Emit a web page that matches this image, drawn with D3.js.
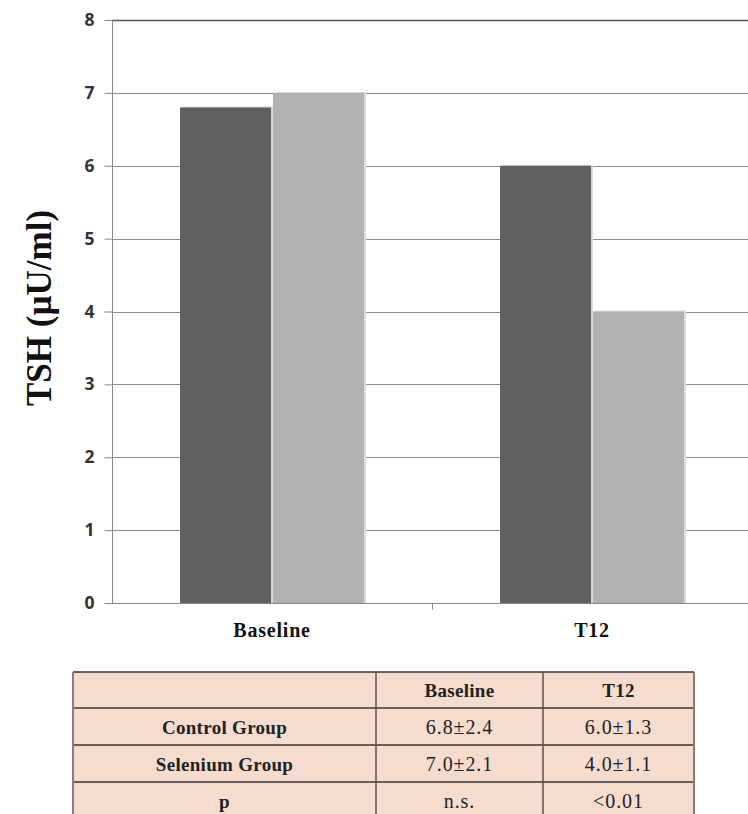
<!DOCTYPE html>
<html>
<head>
<meta charset="utf-8">
<script src="https://cdn.jsdelivr.net/npm/d3@7"></script>
<style>
  html, body { margin: 0; padding: 0; background: #fff; }
  svg { display: block; }
</style>
</head>
<body>
<svg id="chart" width="748" height="814"></svg>
<script>
// ---- data ----
const categories = ["Baseline", "T12"];
const seriesNames = ["Control Group", "Selenium Group"];
const controlValues = [6.8, 6.0];
const seleniumValues = [7.0, 4.0];
const yTicks = [0, 1, 2, 3, 4, 5, 6, 7, 8];
const yTitle = "TSH (\u00b5U/ml)";
const tableHeader = ["", "Baseline", "T12"];
const tableRows = [
  ["Control Group", "6.8\u00b12.4", "6.0\u00b11.3"],
  ["Selenium Group", "7.0\u00b12.1", "4.0\u00b11.1"],
  ["p", "n.s.", "<0.01"]
];
const colors = ["#606060", "#b2b2b2"];

(function () {
// ---- layout ----
const svg = d3.select("#chart");
const pLeft = 112, pRight = 752, pTop = 20, pBottom = 603;
const serif = "'Liberation Serif', 'Times New Roman', serif";

const y = d3.scaleLinear().domain([0, 8]).range([pBottom, pTop]);
const x0 = d3.scaleBand().domain(categories).range([pLeft, pRight]).padding(0);
const bw = x0.bandwidth();
const x1 = d3.scaleBand().domain(seriesNames).range([bw / 2 - 92, bw / 2 + 92]).paddingInner(0.02);

const data = categories.map((c, i) => ({
  cat: c,
  vals: [
    { s: seriesNames[0], v: controlValues[i], c: colors[0] },
    { s: seriesNames[1], v: seleniumValues[i], c: colors[1] }
  ]
}));

// gridlines
svg.append("g")
  .selectAll("line")
  .data(yTicks.filter(t => t > 0))
  .join("line")
  .attr("x1", pLeft).attr("x2", 748)
  .attr("y1", d => Math.round(y(d)) + 0.5).attr("y2", d => Math.round(y(d)) + 0.5)
  .attr("stroke", d => d === 8 ? "#555" : "#8c8c8c")
  .attr("stroke-width", d => d === 8 ? 1.5 : 1);

// y axis
const yAxis = d3.axisLeft(y).tickValues(yTicks).tickSize(8).tickPadding(10).tickFormat(d3.format("d"));
const gy = svg.append("g").attr("transform", `translate(${pLeft + 0.5},0)`).call(yAxis);
gy.attr("font-size", null).attr("font-family", null);
gy.select(".domain").attr("stroke", "#888").attr("d", `M0,${pTop}V${pBottom}`);
gy.selectAll(".tick line").attr("stroke", "#888");
gy.selectAll(".tick text")
  .style("font-family", "'Open Sans', sans-serif")
  .style("font-weight", 700)
  .style("font-size", "17.5px")
  .attr("fill", "#333");

// bars
const groups = svg.append("g").selectAll("g")
  .data(data)
  .join("g")
  .attr("transform", d => `translate(${x0(d.cat)},0)`);

// shadows
groups.selectAll("rect.shadow")
  .data(d => d.vals)
  .join("rect")
  .attr("class", "shadow")
  .attr("x", d => x1(d.s) + 2)
  .attr("y", d => y(d.v) - 1)
  .attr("width", x1.bandwidth())
  .attr("height", d => pBottom - y(d.v) + 1)
  .attr("fill", "#dcdcdc");

groups.selectAll("rect.bar")
  .data(d => d.vals)
  .join("rect")
  .attr("class", "bar")
  .attr("x", d => x1(d.s))
  .attr("y", d => y(d.v))
  .attr("width", x1.bandwidth())
  .attr("height", d => pBottom - y(d.v))
  .attr("fill", d => d.c);

// x axis
const xAxis = d3.axisBottom(x0).tickSize(0).tickPadding(19);
const gx = svg.append("g").attr("transform", `translate(0,${pBottom + 0.5})`).call(xAxis);
gx.attr("font-size", null).attr("font-family", null);
gx.select(".domain").attr("stroke", "#888").attr("d", `M${pLeft},0H748`);
gx.selectAll(".tick text")
  .style("font-family", serif)
  .style("font-weight", "bold")
  .style("font-size", "20px")
  .style("letter-spacing", "0.8px")
  .attr("fill", "#111");
// separator tick between categories
gx.append("line")
  .attr("x1", Math.round(x0(categories[1])) + 0.5)
  .attr("x2", Math.round(x0(categories[1])) + 0.5)
  .attr("y1", 0).attr("y2", 6)
  .attr("stroke", "#888");

// y title
svg.append("text")
  .attr("transform", `translate(51,308) rotate(-90)`)
  .attr("text-anchor", "middle")
  .style("font-family", serif)
  .style("font-weight", "bold")
  .style("font-size", "35px")
  .attr("fill", "#111")
  .text(yTitle);

// ---- table ----
const colEdges = [73, 376, 543, 694];
const rowEdges = [672, 708, 745, 782, 819];
const tg = svg.append("g");
tg.append("rect")
  .attr("x", colEdges[0]).attr("y", rowEdges[0])
  .attr("width", colEdges[3] - colEdges[0]).attr("height", rowEdges[4] - rowEdges[0])
  .attr("fill", "#f5dccf");

const allRows = [tableHeader].concat(tableRows);
allRows.forEach((row, ri) => {
  row.forEach((cell, ci) => {
    const bold = ri === 0 || ci === 0;
    tg.append("text")
      .attr("x", (colEdges[ci] + colEdges[ci + 1]) / 2)
      .attr("y", (rowEdges[ri] + rowEdges[ri + 1]) / 2 + 7)
      .attr("text-anchor", "middle")
      .style("font-family", serif)
      .style("font-weight", bold ? "bold" : "normal")
      .style("font-size", bold ? "19px" : "20px")
      .style("letter-spacing", bold ? "0.3px" : "0.9px")
      .attr("fill", "#222")
      .text(cell);
  });
});
// horizontal lines
tg.selectAll("line.h")
  .data(rowEdges.slice(0, 4))
  .join("line")
  .attr("class", "h")
  .attr("x1", colEdges[0]).attr("x2", colEdges[3])
  .attr("y1", d => d).attr("y2", d => d)
  .attr("stroke", "#3a3535").attr("stroke-width", 1.5);
// vertical lines
tg.selectAll("line.v")
  .data(colEdges)
  .join("line")
  .attr("class", "v")
  .attr("x1", d => d).attr("x2", d => d)
  .attr("y1", rowEdges[0]).attr("y2", 814)
  .attr("stroke", (d, i) => (i === 0 || i === 3) ? "#8a7d78" : "#5a5050")
  .attr("stroke-width", (d, i) => (i === 0 || i === 3) ? 2 : 1.5);
})();
</script>
</body>
</html>
